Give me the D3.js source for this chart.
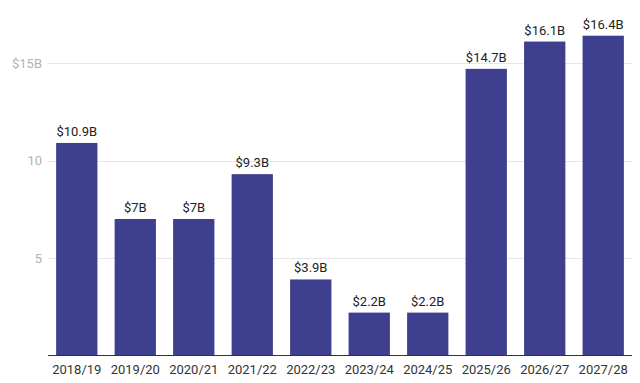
<!DOCTYPE html>
<html lang="en">
<head>
  <meta charset="UTF-8">
  <title>Chart</title>
  <style>
    body { margin: 0; background: #fff; }
    text { font-family: Roboto, sans-serif; }
  </style>
</head>
<body>
  <svg id="svg" width="640" height="383"></svg>
  <script src="https://d3js.org/d3.v7.min.js"></script>
  <script>
    const years = ['2018/19', '2019/20', '2020/21', '2021/22', '2022/23', '2023/24', '2024/25', '2025/26', '2026/27', '2027/28']
    const values = [10.9, 7, 7, 9.3, 3.9, 2.2, 2.2, 14.7, 16.1, 16.4]
    const yTicks = [5, 10, 15]
    const yTickLabels = ['5', '10', '$15B']

    const svg = d3.select('#svg')

    const xScale = d3.scaleBand()
      .domain(years)
      .range([48, 632])
      .paddingInner(0.294)
      .paddingOuter(0.139)

    const yScale = d3.scaleLinear()
      .domain([0, 15])
      .range([355.5, 63])

    // gridlines
    svg.append('g')
      .selectAll('line')
      .data(yTicks)
      .enter()
      .append('line')
      .attr('x1', 48)
      .attr('x2', 632)
      .attr('y1', d => Math.round(yScale(d)) + 0.5)
      .attr('y2', d => Math.round(yScale(d)) + 0.5)
      .attr('stroke', '#e6e6e6')
      .attr('stroke-width', 1)

    // y labels
    svg.append('g')
      .selectAll('text')
      .data(yTicks)
      .enter()
      .append('text')
      .text((d, i) => yTickLabels[i])
      .attr('x', 42)
      .attr('y', d => yScale(d) + 4.5)
      .attr('text-anchor', 'end')
      .attr('fill', '#b3b3b3')
      .style('font-size', '13px')

    // bars
    svg.append('g')
      .selectAll('rect')
      .data(values)
      .enter()
      .append('rect')
      .attr('x', (d, i) => xScale(years[i]))
      .attr('width', xScale.bandwidth())
      .attr('y', d => yScale(d))
      .attr('height', d => yScale(0) - yScale(d))
      .attr('fill', '#3f3f8f')

    // value labels
    svg.append('g')
      .selectAll('text')
      .data(values)
      .enter()
      .append('text')
      .text(d => `$${d}B`)
      .attr('x', (d, i) => xScale(years[i]) + xScale.bandwidth() / 2)
      .attr('y', d => yScale(d) - 7)
      .attr('text-anchor', 'middle')
      .attr('fill', '#222')
      .style('font-size', '13px')

    // baseline
    svg.append('line')
      .attr('x1', 48)
      .attr('x2', 632)
      .attr('y1', 355.5)
      .attr('y2', 355.5)
      .attr('stroke', '#333')
      .attr('stroke-width', 1)

    // x labels
    svg.append('g')
      .selectAll('text')
      .data(years)
      .enter()
      .append('text')
      .text(d => d)
      .attr('x', d => xScale(d) + xScale.bandwidth() / 2)
      .attr('y', 374)
      .attr('text-anchor', 'middle')
      .attr('fill', '#333')
      .style('font-size', '13px')
  </script>
</body>
</html>
